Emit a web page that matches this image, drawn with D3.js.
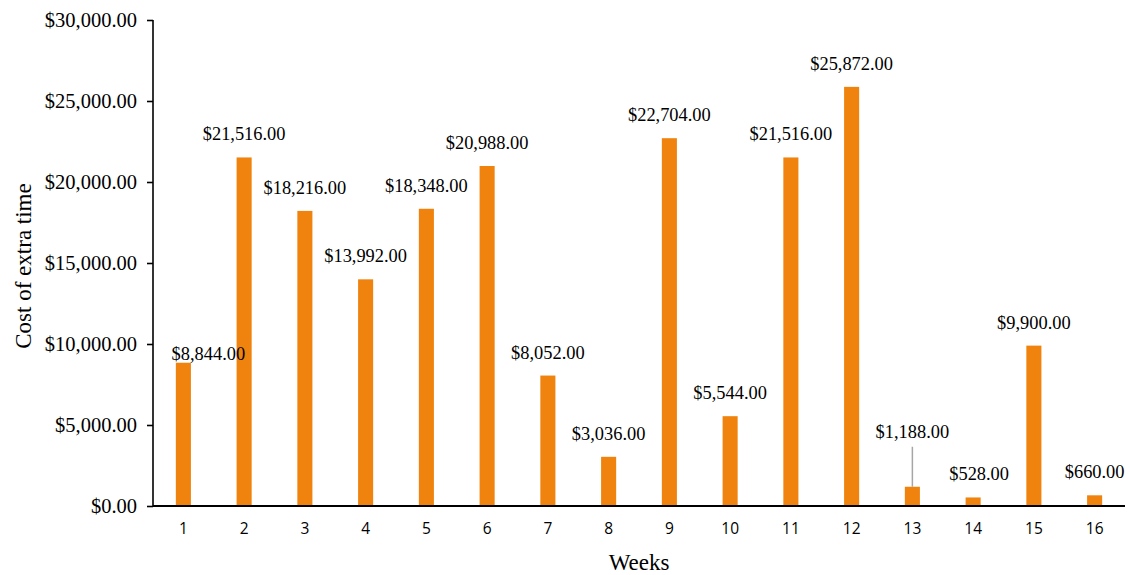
<!DOCTYPE html>
<html>
<head>
<meta charset="utf-8">
<script src="https://cdn.jsdelivr.net/npm/d3@7"></script>
<style>
  body { margin: 0; background: #fff; }
  svg { display: block; }
  .serif { font-family: "Liberation Serif", "Times New Roman", serif; }
  .sans { font-family: "Open Sans", "Liberation Sans", sans-serif; }
</style>
</head>
<body>
<div class="bar-chart"></div>
<script>
// data
var weeks = ["1", "2", "3", "4", "5", "6", "7", "8", "9", "10", "11", "12", "13", "14", "15", "16"];
var costs = [8844, 21516, 18216, 13992, 18348, 20988, 8052, 3036, 22704, 5544, 21516, 25872, 1188, 528, 9900, 660];
var yTicks = [0, 5000, 10000, 15000, 20000, 25000, 30000];

// a few labels were moved by hand in the original
var labelNudge = { "1": [25, 14], "13": [0, -32], "14": [6, 0] };

var width = 1130, height = 575;
var margin = {top: 20, right: 5, bottom: 69, left: 153};
var money = d3.format("$,.2f");

var svg = d3.select(".bar-chart").append("svg")
    .attr("width", width)
    .attr("height", height);

var x = d3.scaleBand()
    .domain(weeks)
    .range([margin.left, width - margin.right])
    .paddingInner(0.752)
    .paddingOuter(0.376);

var y = d3.scaleLinear()
    .domain([0, 30000])
    .range([height - margin.bottom, margin.top]);

var data = weeks.map((w, i) => ({week: w, value: costs[i]}));

//bars
svg.append("g")
    .selectAll("rect")
    .data(data)
    .enter().append("rect")
    .attr("x", d => x(d.week))
    .attr("y", d => y(d.value))
    .attr("width", x.bandwidth())
    .attr("height", d => y(0) - y(d.value))
    .attr("fill", "#F0830E");

//y axis
var yAxis = svg.append("g")
    .attr("transform", "translate(" + margin.left + ",0)")
    .call(d3.axisLeft(y).tickValues(yTicks).tickFormat(money).tickSize(6).tickPadding(10));
yAxis.selectAll("path, line").attr("stroke", "#000").attr("stroke-width", 1.6);
yAxis.select(".domain").attr("d", "M0," + y(30000) + "V" + y(0));
yAxis.selectAll("text")
    .attr("class", "serif")
    .style("font-size", "20.5px")
    .attr("fill", "#000");

//x axis
var xAxis = svg.append("g")
    .attr("transform", "translate(0," + y(0) + ")")
    .call(d3.axisBottom(x).tickSize(0).tickPadding(17));
xAxis.select(".domain").attr("stroke", "#000").attr("stroke-width", 2)
    .attr("d", "M" + margin.left + ",0H" + (width - margin.right));
xAxis.selectAll("text")
    .attr("class", "sans")
    .style("font-size", "15.5px")
    .attr("fill", "#000");

//leader line for week 13
var w13 = data[12];
svg.append("line")
    .attr("x1", x(w13.week) + x.bandwidth() / 2)
    .attr("x2", x(w13.week) + x.bandwidth() / 2)
    .attr("y1", y(w13.value) - 40)
    .attr("y2", y(w13.value))
    .attr("stroke", "#A6A6A6")
    .attr("stroke-width", 1.5);

//value labels
svg.append("g")
    .selectAll("text")
    .data(data)
    .enter().append("text")
    .attr("class", "serif")
    .attr("x", d => x(d.week) + x.bandwidth() / 2 + (labelNudge[d.week] ? labelNudge[d.week][0] : 0))
    .attr("y", d => y(d.value) - 17 + (labelNudge[d.week] ? labelNudge[d.week][1] : 0))
    .attr("text-anchor", "middle")
    .style("font-size", "18.4px")
    .attr("fill", "#000")
    .text(d => money(d.value));

//axis titles
svg.append("text")
    .attr("class", "serif")
    .attr("transform", "translate(31," + ((margin.top + y(0)) / 2 + 3) + ") rotate(-90)")
    .attr("text-anchor", "middle")
    .style("font-size", "23px")
    .attr("fill", "#000")
    .text("Cost of extra time");

svg.append("text")
    .attr("class", "serif")
    .attr("x", (margin.left + width - margin.right) / 2)
    .attr("y", 570)
    .attr("text-anchor", "middle")
    .style("font-size", "23px")
    .attr("fill", "#000")
    .text("Weeks");
</script>
</body>
</html>
